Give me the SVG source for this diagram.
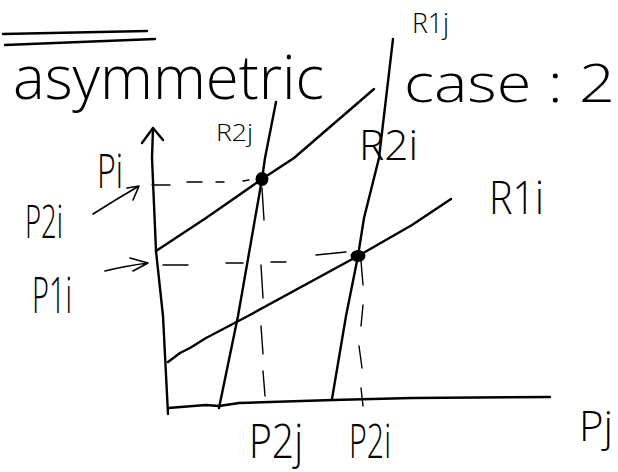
<svg xmlns="http://www.w3.org/2000/svg" width="618" height="472" viewBox="0 0 618 472">
<style>
.ln{fill:none;stroke:#000;stroke-width:2.4;stroke-linecap:round;stroke-linejoin:round}
.th{fill:none;stroke:#000;stroke-width:1.6;stroke-linecap:round;stroke-linejoin:round}
.ds{fill:none;stroke:#000;stroke-width:1.4;stroke-linecap:round}
.tx{font-family:"Open Sans","Liberation Sans",Arial,sans-serif;font-weight:300;fill:#000}
</style>
<rect width="618" height="472" fill="#fff"/>
<g id="title">
<path class="ln" d="M3,34 L147,31 M5,45 L155,39"/>
<text class="tx" x="13" y="99" font-size="60" textLength="311" lengthAdjust="spacingAndGlyphs">asymmetric</text>
<text class="tx" x="404" y="102" font-size="54" textLength="211" lengthAdjust="spacingAndGlyphs">case : 2</text>
</g>
<g id="axes">
<polyline class="ln" points="153,128 152,158 156,251 163,316 168,414"/>
<path class="ln" d="M142,143 L153,128 L163,140"/>
<polyline class="ln" points="168,408 206,405 219,406 239,403 333,400 412,398 550,397"/>
</g>
<g id="curve-R2j"><polyline class="ln" points="276,102 265,158 262,179 238,316 219,408"/></g>
<g id="curve-R1j"><polyline class="ln" points="393,39 379,158 364,218 358,256 346,316 332,399"/></g>
<g id="curve-R2i"><polyline class="ln" points="374,89 294,158 262,179 206,218 156,251"/></g>
<g id="curve-R1i"><polyline class="ln" points="168,362 180,353 190,348 206,338 248,316 358,256 412,225 451,199"/></g>
<g id="equilibria">
<ellipse cx="262" cy="179" rx="6.5" ry="7" fill="#000"/>
<ellipse cx="358" cy="256" rx="7.5" ry="6" fill="#000"/>
</g>
<g id="connectors">
<path class="ds" d="M152,185 L170,185 M187,182 L202,182 M216,182 L224,182 M243,181 L249,180"/>
<path class="ds" d="M163,265 L188,265 M226,263 L243,263 M271,262 L286,262 M316,255 L346,252"/>
<path class="ds" d="M262,188 L264,220 M261,265 L263,298 M261,326 L263,354 M263,371 L265,396"/>
<path class="ds" d="M361,261 L363,285 M363,305 L361,326 M359,346 L362,368 M361,388 L363,406"/>
<path class="th" d="M93,214 Q115,200 139,186 M127,188 L139,186 L133,200"/>
<path class="th" d="M105,271 Q125,266 148,263 M130,258 L148,263 L133,271"/>
</g>
<g id="labels">
<text class="tx" x="412" y="33" font-size="27" textLength="37" lengthAdjust="spacingAndGlyphs">R1j</text>
<text class="tx" x="216" y="141" font-size="23" textLength="37" lengthAdjust="spacingAndGlyphs">R2j</text>
<text class="tx" x="359" y="160" font-size="42" textLength="59" lengthAdjust="spacingAndGlyphs">R2i</text>
<text class="tx" x="489" y="214" font-size="46" textLength="55" lengthAdjust="spacingAndGlyphs">R1i</text>
<text class="tx" x="97" y="188" font-size="48" textLength="26" lengthAdjust="spacingAndGlyphs">Pi</text>
<text class="tx" x="25" y="238" font-size="46" textLength="38" lengthAdjust="spacingAndGlyphs">P2i</text>
<text class="tx" x="32" y="313" font-size="50" textLength="40" lengthAdjust="spacingAndGlyphs">P1i</text>
<text class="tx" x="249" y="458" font-size="48" textLength="54" lengthAdjust="spacingAndGlyphs">P2j</text>
<text class="tx" x="349" y="458" font-size="48" textLength="42" lengthAdjust="spacingAndGlyphs">P2i</text>
<text class="tx" x="579" y="441" font-size="42">Pj</text>
</g>
</svg>
